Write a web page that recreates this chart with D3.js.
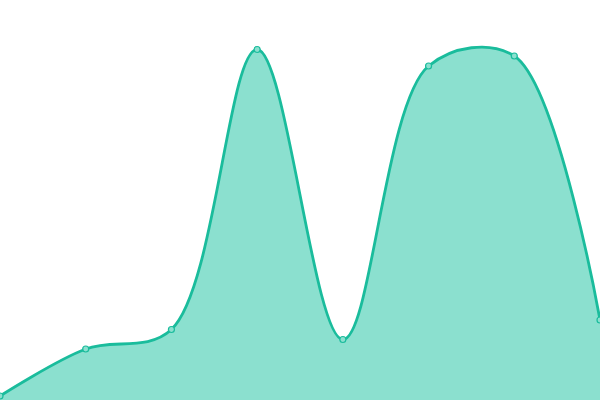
<!DOCTYPE html>
<html lang="en">
<head>
<meta charset="utf-8">
<style>
  body { margin: 0; background: #fff; }
  .area { fill: #8be0cf; }
  .line { fill: none; stroke: #1abc9c; stroke-width: 2.8px; }
  .dot { fill: #8be0cf; stroke: #1abc9c; stroke-width: 1.2px; }
</style>
</head>
<body>
<script src="https://d3js.org/d3.v7.min.js"></script>
<script>
// one point per slot
var slots = [0, 1, 2, 3, 4, 5, 6, 7];
var values = [4, 51, 70.5, 350.5, 60.5, 334, 344, 80];

var w = 600, h = 400;

var svg = d3.select("body").append("svg")
    .attr("width", w)
    .attr("height", h);

var x = d3.scaleLinear().domain([0, 7]).range([0, w]);
var y = d3.scaleLinear().domain([0, 400]).range([h, 0]);

var pts = slots.map(function(s, i){ return [s, values[i]]; });

var curve = d3.curveCatmullRom.alpha(0.5);

var area = d3.area()
    .x(function(d){ return x(d[0]); })
    .y0(h)
    .y1(function(d){ return y(d[1]); })
    .curve(curve);

var line = d3.line()
    .x(function(d){ return x(d[0]); })
    .y(function(d){ return y(d[1]); })
    .curve(curve);

svg.append("path").datum(pts).attr("class", "area").attr("d", area);
svg.append("path").datum(pts).attr("class", "line").attr("d", line);

svg.selectAll("circle.dot")
    .data(pts)
  .enter().append("circle")
    .attr("class", "dot")
    .attr("cx", function(d){ return x(d[0]); })
    .attr("cy", function(d){ return y(d[1]); })
    .attr("r", 3);
</script>
</body>
</html>
